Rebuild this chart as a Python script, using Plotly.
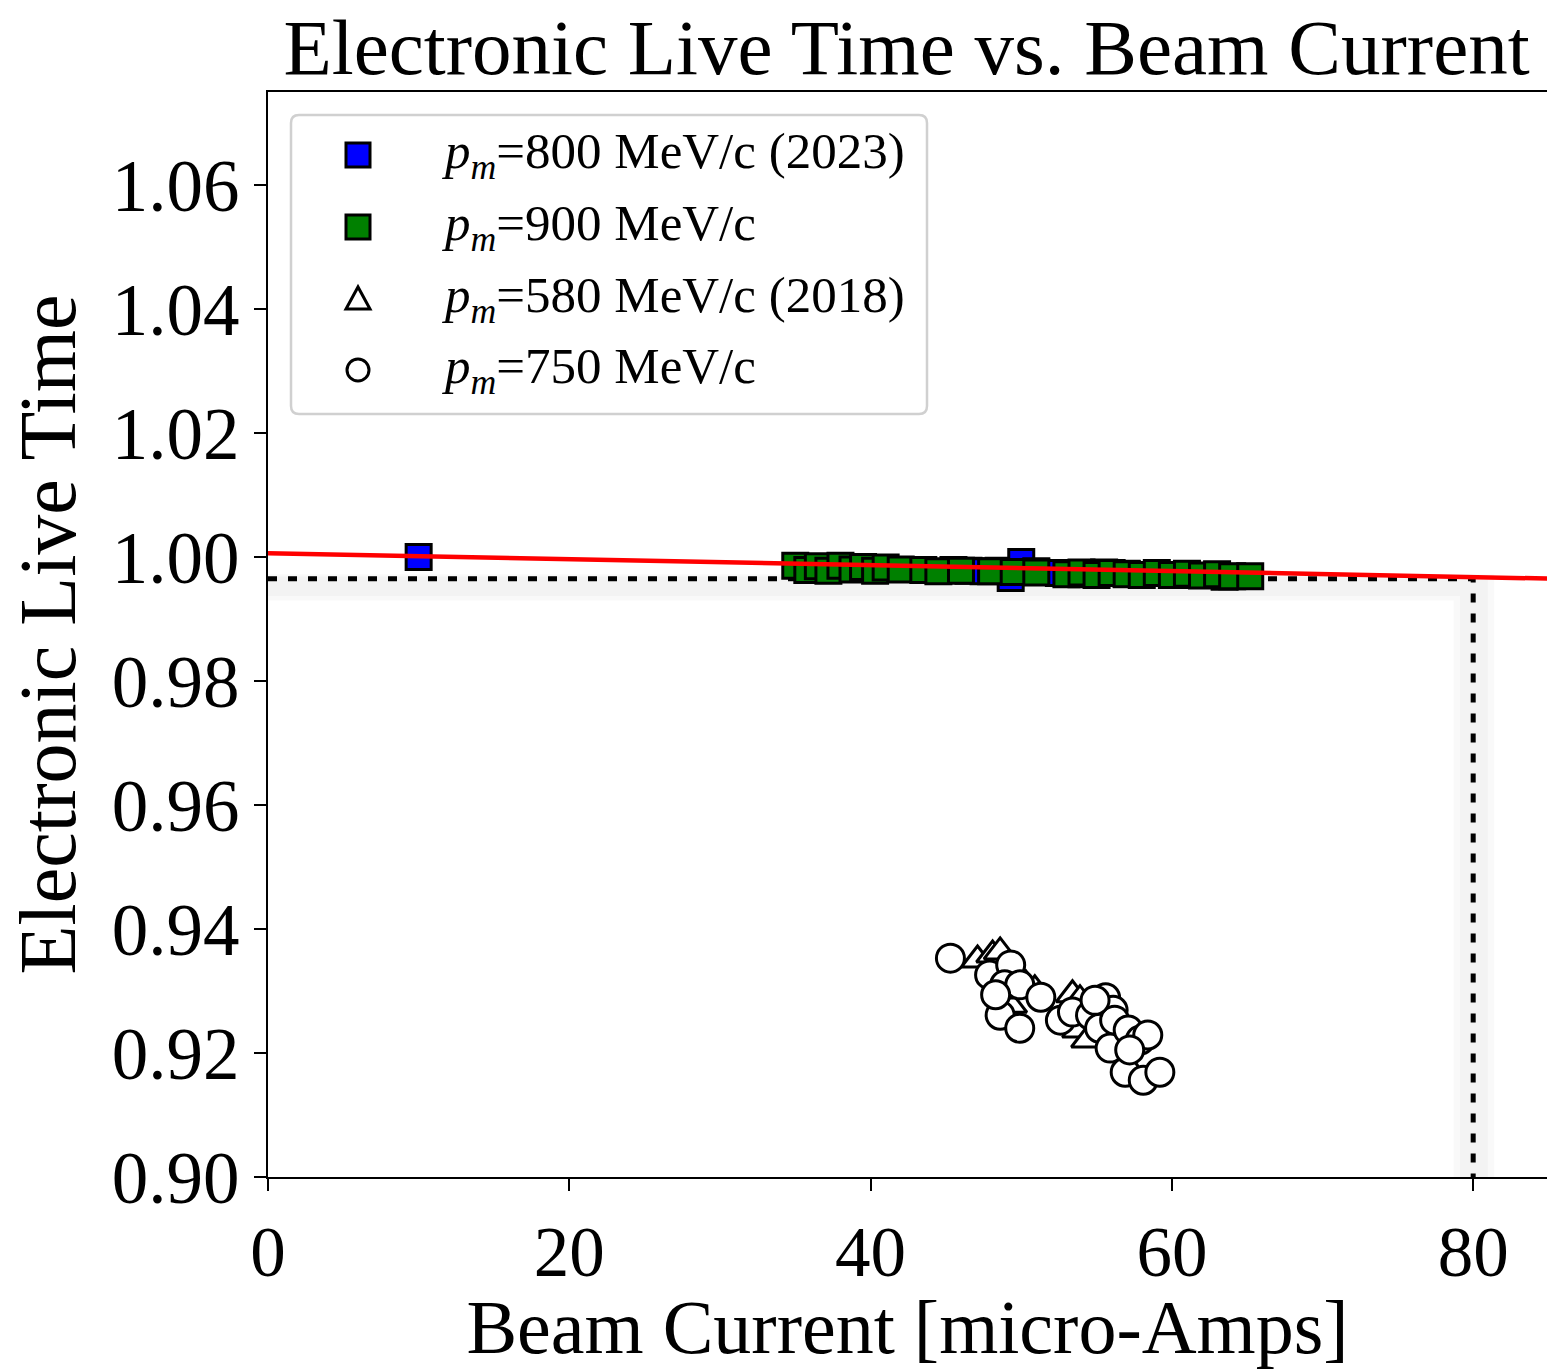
import plotly.graph_objects as go

# ---- data ----
x_800 = [10.0, 45.5, 46.5, 47.5, 48.5, 49.3, 50.0, 51.0, 52.5, 54.0, 55.5, 57.0, 60.5, 63.5]
y_800 = [1.0000, 0.9979, 0.9978, 0.9977, 0.9978, 0.9966, 0.9992, 0.9977, 0.9974, 0.9972, 0.9975, 0.9973, 0.9971, 0.9968]

x_900 = [35.0, 35.8, 36.5, 37.2, 38.0, 38.8, 39.5, 40.3, 41.0, 42.0, 43.5, 44.5, 46.0, 48.0,
         49.5, 51.0, 53.0, 54.0, 55.0, 56.0, 57.0, 58.0, 59.0, 60.0, 61.0, 62.0, 63.0, 64.0, 65.2]
y_900 = [0.9986, 0.9979, 0.9985, 0.9978, 0.9986, 0.9980, 0.9984, 0.9978, 0.9983, 0.9980, 0.9979, 0.9977,
         0.9978, 0.9977, 0.9976, 0.9975, 0.9972, 0.9975, 0.9971, 0.9974, 0.9972, 0.9971, 0.9974, 0.9971,
         0.9973, 0.9970, 0.9972, 0.9969, 0.9969]

x_580 = [47.1, 48.1, 48.6, 49.6, 50.3, 50.9, 49.3, 48.6, 53.4, 53.9, 53.8, 54.4, 55.2, 56.6]
y_580 = [0.9350, 0.9358, 0.9363, 0.9326, 0.9310, 0.9302, 0.9277, 0.9300, 0.9294, 0.9286, 0.9237, 0.9221, 0.9261, 0.9213]

x_750 = [45.3, 47.9, 48.6, 49.3, 48.9, 49.9, 49.9, 51.3, 48.3, 52.6, 53.4, 54.6, 55.6, 56.1, 55.2,
         56.2, 55.9, 57.1, 56.9, 57.9, 58.1, 58.4, 59.2, 54.9, 57.2]
y_750 = [0.9353, 0.9326, 0.9261, 0.9342, 0.9310, 0.9310, 0.9240, 0.9290, 0.9294, 0.9253, 0.9266, 0.9261,
         0.9289, 0.9269, 0.9240, 0.9253, 0.9208, 0.9237, 0.9169, 0.9221, 0.9156, 0.9229, 0.9169, 0.9285, 0.9205]

fit_intercept = 1.0006
fit_slope = -0.000048
fit_x = [0.0, 86.0]

cut_current = 80.0
cut_livetime = 0.9965

labels = ["<i>p</i><sub><i>m</i></sub>=800 MeV/c (2023)",
          "<i>p</i><sub><i>m</i></sub>=900 MeV/c",
          "<i>p</i><sub><i>m</i></sub>=580 MeV/c (2018)",
          "<i>p</i><sub><i>m</i></sub>=750 MeV/c"]
legend_symbols = ["square", "square", "triangle", "circle"]
legend_fills = ["#0000ff", "#008000", "white", "white"]

FONT = "Liberation Serif"

# plot-area geometry (pixels) for placing the hand-drawn legend
L, R, T, B = 268, 1547, 92, 1177


def px(xp):
    return (xp - L) / (R - L)


def py(yp):
    return (B - yp) / (B - T)


fig = go.Figure()

# light shadow band around cut lines
for (pad, alpha) in [(0.0, 0.025), (0.0007, 0.025)]:
    fig.add_shape(type="rect", x0=0, x1=81.4 - pad * 600, y0=0.9930 + pad, y1=0.9972 - pad / 2,
                  line_width=0, fillcolor=f"rgba(0,0,0,{alpha})", layer="below")
    fig.add_shape(type="rect", x0=78.7 + pad * 600, x1=81.4 - pad * 600, y0=0.9, y1=0.9930 + pad,
                  line_width=0, fillcolor=f"rgba(0,0,0,{alpha})", layer="below")

# dashed cut lines
fig.add_trace(go.Scatter(x=[0, cut_current, cut_current], y=[cut_livetime, cut_livetime, 0.9],
                         mode="lines", line=dict(color="black", width=5, dash="9px,11px"),
                         showlegend=False, hoverinfo="skip"))

fig.add_trace(go.Scatter(x=x_580, y=y_580, mode="markers", name=labels[2],
                         marker=dict(symbol="triangle-up", size=28, color="white",
                                     line=dict(color="black", width=3))))
fig.add_trace(go.Scatter(x=x_750, y=y_750, mode="markers", name=labels[3],
                         marker=dict(symbol="circle", size=28, color="white",
                                     line=dict(color="black", width=3))))
fig.add_trace(go.Scatter(x=x_800, y=y_800, mode="markers", name=labels[0],
                         marker=dict(symbol="square", size=25, color="#0000ff",
                                     line=dict(color="black", width=3))))
fig.add_trace(go.Scatter(x=x_900, y=y_900, mode="markers", name=labels[1],
                         marker=dict(symbol="square", size=25, color="#008000",
                                     line=dict(color="black", width=3))))

fit_y = [fit_intercept + fit_slope * v for v in fit_x]
fig.add_trace(go.Scatter(x=fit_x, y=fit_y, mode="lines", line=dict(color="#ff0000", width=4.5),
                         showlegend=False, hoverinfo="skip"))

# ---- hand-drawn legend (larger symbols, like the reference) ----
bx0, bx1, by0, by1, rr = 291, 927, 115, 414, 8
path = (f"M {px(bx0 + rr)},{py(by0)} L {px(bx1 - rr)},{py(by0)} "
        f"Q {px(bx1)},{py(by0)} {px(bx1)},{py(by0 + rr)} "
        f"L {px(bx1)},{py(by1 - rr)} Q {px(bx1)},{py(by1)} {px(bx1 - rr)},{py(by1)} "
        f"L {px(bx0 + rr)},{py(by1)} Q {px(bx0)},{py(by1)} {px(bx0)},{py(by1 - rr)} "
        f"L {px(bx0)},{py(by0 + rr)} Q {px(bx0)},{py(by0)} {px(bx0 + rr)},{py(by0)} Z")
fig.add_shape(type="path", path=path, xref="paper", yref="paper",
              fillcolor="white", line=dict(color="#d0d0d0", width=2.5), layer="above")

row_y = [155, 227, 299, 370]
sx = 358
for lab, sym, fill, yy in zip(labels, legend_symbols, legend_fills, row_y):
    if sym == "square":
        fig.add_shape(type="rect", xref="paper", yref="paper",
                      x0=px(sx - 12), x1=px(sx + 12), y0=py(yy + 12), y1=py(yy - 12),
                      fillcolor=fill, line=dict(color="black", width=3), layer="above")
    elif sym == "circle":
        fig.add_shape(type="circle", xref="paper", yref="paper",
                      x0=px(sx - 11), x1=px(sx + 11), y0=py(yy + 11), y1=py(yy - 11),
                      fillcolor=fill, line=dict(color="black", width=3), layer="above")
    else:
        tri = (f"M {px(sx - 12)},{py(yy + 10)} L {px(sx + 12)},{py(yy + 10)} "
               f"L {px(sx)},{py(yy - 12)} Z")
        fig.add_shape(type="path", xref="paper", yref="paper", path=tri,
                      fillcolor=fill, line=dict(color="black", width=3), layer="above")
    fig.add_annotation(text=lab, xref="paper", yref="paper", x=px(440), y=py(yy),
                       xanchor="left", yanchor="middle", showarrow=False,
                       font=dict(size=51, family=FONT, color="black"))

fig.update_layout(
    width=1547, height=1369,
    margin=dict(l=L, r=1547 - R, t=T, b=1369 - B),
    paper_bgcolor="white", plot_bgcolor="white",
    font=dict(family=FONT, color="black", size=72),
    title=dict(text="Electronic Live Time vs. Beam Current", x=0.586, xanchor="center",
               y=0.966, yanchor="middle", font=dict(size=79, family=FONT)),
    showlegend=False,
    xaxis=dict(range=[0, 84.9], tickvals=[0, 20, 40, 60, 80], showgrid=False, zeroline=False,
               showline=True, linecolor="black", linewidth=2, mirror=True,
               ticks="outside", ticklen=12, tickwidth=2, tickcolor="black",
               tickfont=dict(size=71, family=FONT),
               title=dict(text="Beam Current [micro-Amps]", font=dict(size=76, family=FONT), standoff=12)),
    yaxis=dict(range=[0.9, 1.075], tickvals=[0.90, 0.92, 0.94, 0.96, 0.98, 1.00, 1.02, 1.04, 1.06],
               tickformat=".2f", showgrid=False, zeroline=False,
               showline=True, linecolor="black", linewidth=2, mirror=False,
               ticks="outside", ticklen=12, tickwidth=2, tickcolor="black",
               tickfont=dict(size=73, family=FONT),
               title=dict(text="Electronic Live Time", font=dict(size=80, family=FONT), standoff=10)),
)

fig.write_html("out.html")
